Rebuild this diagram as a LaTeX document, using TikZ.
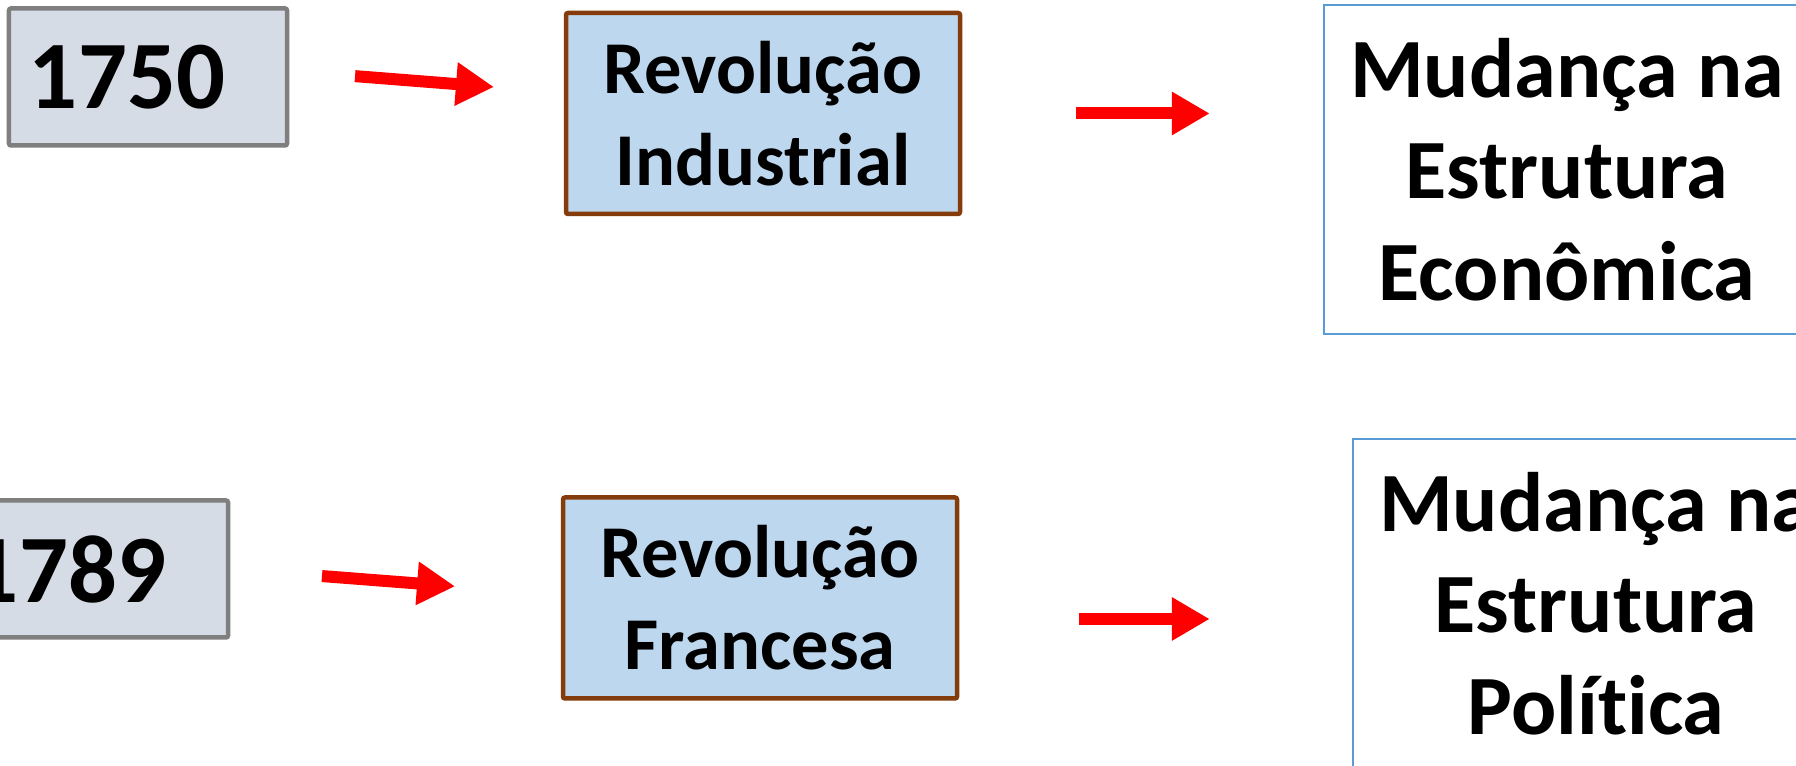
\documentclass[tikz,border=0pt]{standalone}
\usepackage{fontspec}
\setmainfont{Carlito}[Ligatures=NoCommon]
\definecolor{yeargray}{RGB}{127, 127, 127}
\definecolor{yearfill}{RGB}{214, 220, 229}
\definecolor{revbrown}{RGB}{132, 60, 12}
\definecolor{revfill}{RGB}{189, 215, 238}
\definecolor{changeblue}{RGB}{91, 155, 213}
\definecolor{arrowred}{RGB}{255, 0, 0}
\usetikzlibrary{arrows.meta, positioning, calc}

\begin{document}
\begin{tikzpicture}[
  yearbox/.style={draw=yeargray, fill=yearfill, line width=0.045cm, rounded corners=0.02cm, text width=2.38cm, inner xsep=0.20cm, minimum height=1.37cm, align=left, font=\fontsize{27.5}{32}\selectfont\bfseries},
  revbox/.style={draw=revbrown, fill=revfill, line width=0.045cm, rounded corners=0.02cm, minimum width=3.94cm, minimum height=2.01cm, align=center, font=\fontsize{21.2}{26.2}\selectfont\bfseries},
  changebox/.style={draw=changeblue, fill=white, line width=0.025cm, minimum width=4.86cm, minimum height=3.29cm, align=center, font=\fontsize{24}{28.9}\selectfont\bfseries},
  redarrow/.style={arrowred, line width=0.12cm, -{Triangle[length=0.38cm, width=0.41cm]}}
]
  \useasboundingbox (0, 0) rectangle (17.96, 7.66);
  \clip (0, 0) rectangle (17.96, 7.66);
  \fill[white] (0, 0) rectangle (17.96, 7.66);

  % Years
  \node[yearbox] (y1750) at (1.48, 6.89) {1750};
  \node[yearbox] (y1789) at (0.89, 1.97) {1789};

  % Revolutions
  \node[revbox] (revind) at (7.63, 6.525) {Revolução\\Industrial};
  \node[revbox] (revfr) at (7.60, 1.68) {Revolução\\Francesa};

  % Changes
  \node[changebox] (econ) at (15.67, 5.965) {Mudança na\\Estrutura\\Econômica};
  \node[changebox] (pol) at (15.96, 1.625) {Mudança na\\Estrutura\\Política};

  % Arrows
  \draw[redarrow, shorten <=0.66cm, shorten >=0.70cm] ([yshift=0.06cm]y1750.east) -- ([yshift=0.21cm]revind.west);
  \draw[redarrow, shorten <=0.92cm, shorten >=1.06cm] (y1789.east) -- ([yshift=0.035cm]revfr.west);
  \draw[redarrow, shorten <=1.14cm, shorten >=1.13cm] (revind.east) -- (revind.east -| econ.west);
  \draw[redarrow, shorten <=1.20cm, shorten >=1.42cm] ([yshift=-0.21cm]revfr.east) -- ($(revfr.east -| pol.west)+(0,-0.21)$);
\end{tikzpicture}
\end{document}
